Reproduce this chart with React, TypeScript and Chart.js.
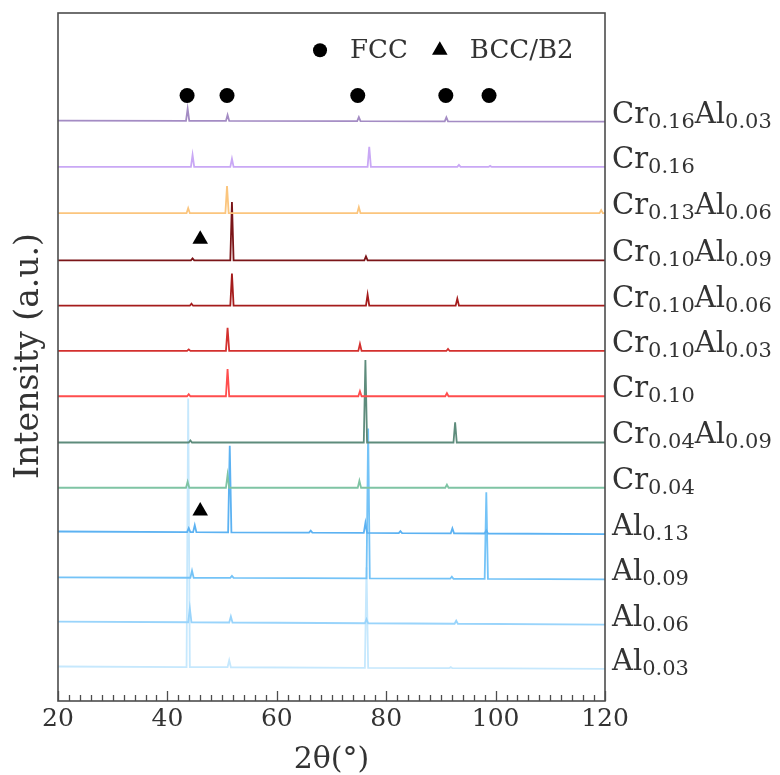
import React, { useEffect, useRef } from "react";
import { Chart, registerables } from "chart.js";

Chart.register(...registerables);

const FONT = "'DejaVu Serif', 'Liberation Serif', serif";
const TEXT_COLOR = "#333333";

// Series, listed from top trace to bottom trace
const seriesNames: [string, string][][] = [
  [["Cr", "0.16"], ["Al", "0.03"]],
  [["Cr", "0.16"]],
  [["Cr", "0.13"], ["Al", "0.06"]],
  [["Cr", "0.10"], ["Al", "0.09"]],
  [["Cr", "0.10"], ["Al", "0.06"]],
  [["Cr", "0.10"], ["Al", "0.03"]],
  [["Cr", "0.10"]],
  [["Cr", "0.04"], ["Al", "0.09"]],
  [["Cr", "0.04"]],
  [["Al", "0.13"]],
  [["Al", "0.09"]],
  [["Al", "0.06"]],
  [["Al", "0.03"]],
];

const seriesColors = [
  "#a48cc4",
  "#c9a8f5",
  "#fbc57d",
  "#7b1518",
  "#a51c1c",
  "#d3302e",
  "#ff4d4d",
  "#5e8c7c",
  "#7fc4a4",
  "#5cb2f2",
  "#74c3f7",
  "#99d4fb",
  "#c6e8fd",
];

// vertical offset (a.u.) of each trace's baseline
const baselineOffsets = [576, 531, 485, 438, 393, 348, 303, 257, 212, 166, 121, 76, 32];
// baseline rise at 2θ = 20° relative to 2θ = 120°
const baselineTilt = [1, 0, 0, 0, 0, 0, 0, 0, 0, 2.5, 2, 3, 2.3];

// [2θ position, peak height above baseline]
const peaksCr16Al03 = [[43.7, 12], [51.0, 6], [75.0, 4], [91.0, 4]];
const peaksCr16 = [[44.6, 12], [51.8, 8], [76.9, 20], [93.3, 2], [99.0, 1]];
const peaksCr13Al06 = [[43.8, 5], [50.9, 27], [75.0, 6], [119.3, 3]];
const peaksCr10Al09 = [[44.6, 2], [51.8, 58], [76.3, 4]];
const peaksCr10Al06 = [[44.4, 2], [51.8, 32], [76.6, 11], [93.0, 7]];
const peaksCr10Al03 = [[43.9, 1.5], [51.0, 23], [75.2, 7], [91.3, 2]];
const peaksCr10 = [[43.9, 2], [51.0, 27], [75.2, 5], [91.1, 3]];
const peaksCr04Al09 = [[44.2, 2], [76.2, 82], [92.6, 20]];
const peaksCr04 = [[43.7, 6], [51.0, 13], [75.1, 7], [91.1, 3]];
const peaksAl13 = [[43.9, 4], [45.0, 7], [51.4, 86], [66.2, 2], [76.2, 10], [82.6, 2], [92.1, 5], [98.3, 3]];
const peaksAl09 = [[44.5, 7], [51.8, 2], [76.7, 149], [92.0, 2], [98.3, 86]];
const peaksAl06 = [[44.1, 14], [51.6, 6], [76.4, 4], [92.8, 3]];
const peaksAl03 = [[43.8, 267], [51.3, 7], [76.4, 100], [91.8, 1]];

const seriesPeaks = [
  peaksCr16Al03, peaksCr16, peaksCr13Al06, peaksCr10Al09, peaksCr10Al06, peaksCr10Al03,
  peaksCr10, peaksCr04Al09, peaksCr04, peaksAl13, peaksAl09, peaksAl06, peaksAl03,
];

const PEAK_HALF_WIDTH = 0.3;

// phase markers
const fccMarkerX = [43.6, 50.9, 74.8, 90.9, 98.8];
const fccMarkerY = 602;
const bccMarkerX = [46.0, 46.0];
const bccMarkerY = [459, 189];
const legendItems = [
  { style: "circle", x: 67.9, label: "FCC" },
  { style: "triangle", x: 89.8, label: "BCC/B2" },
];
const legendY = 647;

const X_MIN = 20;
const X_MAX = 120;
const Y_MIN = 0;
const Y_MAX = 684;
const xMajorTicks = [20, 40, 60, 80, 100, 120];
const X_MINOR_STEP = 2;

function buildTrace(offset: number, tilt: number, peaks: number[][]) {
  const base = (x: number) => offset + (tilt * (X_MAX - x)) / (X_MAX - X_MIN);
  const pts: { x: number; y: number }[] = [{ x: X_MIN, y: base(X_MIN) }];
  const sorted = [...peaks].sort((a, b) => a[0] - b[0]);
  for (const [p, h] of sorted) {
    pts.push({ x: p - PEAK_HALF_WIDTH, y: base(p - PEAK_HALF_WIDTH) });
    pts.push({ x: p, y: base(p) + h });
    pts.push({ x: p + PEAK_HALF_WIDTH, y: base(p + PEAK_HALF_WIDTH) });
  }
  pts.push({ x: X_MAX, y: base(X_MAX) });
  return pts;
}

const decorPlugin = {
  id: "decor",
  afterDatasetsDraw(chart: any) {
    const { ctx, chartArea, scales } = chart;
    const xs = scales.x;
    const ys = scales.y;
    ctx.save();
    // frame
    ctx.strokeStyle = "#4d4d4d";
    ctx.lineWidth = 1.6;
    ctx.strokeRect(chartArea.left, chartArea.top, chartArea.right - chartArea.left, chartArea.bottom - chartArea.top);
    // inward ticks at bottom
    ctx.lineWidth = 1.3;
    for (let v = X_MIN; v <= X_MAX; v += X_MINOR_STEP) {
      const px = Math.round(xs.getPixelForValue(v)) + 0.5;
      const major = xMajorTicks.includes(v);
      const len = major ? 10 : 6;
      ctx.beginPath();
      ctx.moveTo(px, chartArea.bottom);
      ctx.lineTo(px, chartArea.bottom - len);
      ctx.stroke();
    }
    // right-hand labels with subscripts
    ctx.fillStyle = TEXT_COLOR;
    ctx.textAlign = "left";
    ctx.textBaseline = "alphabetic";
    seriesNames.forEach((parts, i) => {
      const py = ys.getPixelForValue(baselineOffsets[i]);
      let x = chartArea.right + 7;
      for (const [main, sub] of parts) {
        ctx.font = `29px ${FONT}`;
        ctx.fillText(main, x, py + 1);
        x += ctx.measureText(main).width;
        ctx.font = `21px ${FONT}`;
        ctx.fillText(sub, x, py + 6);
        x += ctx.measureText(sub).width;
      }
    });
    // legend texts
    ctx.font = `26px ${FONT}`;
    ctx.textBaseline = "middle";
    legendItems.forEach((it) => {
      const px = xs.getPixelForValue(it.x);
      const py = ys.getPixelForValue(legendY);
      ctx.fillText(it.label, px + 30, py + 1);
    });
    // y title
    ctx.font = `33px ${FONT}`;
    ctx.textAlign = "center";
    ctx.translate(29, 356);
    ctx.rotate(-Math.PI / 2);
    ctx.fillText("Intensity (a.u.)", 0, 0);
    ctx.restore();
  },
};

export default function App() {
  const ref = useRef<HTMLCanvasElement | null>(null);
  useEffect(() => {
    if (!ref.current) return;
    const lineSets: any[] = seriesNames.map((parts, i) => ({
      label: parts.map((p) => p[0] + p[1]).join(""),
      data: buildTrace(baselineOffsets[i], baselineTilt[i], seriesPeaks[i]),
      borderColor: seriesColors[i],
      borderWidth: 1.8,
      pointRadius: 0,
      tension: 0,
      fill: false,
    }));
    const markerSets: any[] = [
      {
        label: "FCC",
        data: fccMarkerX.map((x) => ({ x, y: fccMarkerY })),
        showLine: false,
        pointStyle: "circle",
        pointRadius: 7.5,
        backgroundColor: "#000",
        borderColor: "#000",
        borderWidth: 0,
      },
      {
        label: "BCC/B2",
        data: bccMarkerX.map((x, i) => ({ x, y: bccMarkerY[i] })),
        showLine: false,
        pointStyle: "triangle",
        pointRadius: 9,
        backgroundColor: "#000",
        borderColor: "#000",
        borderWidth: 0,
      },
      ...legendItems.map((it) => ({
        label: "legend-" + it.label,
        data: [{ x: it.x, y: legendY }],
        showLine: false,
        pointStyle: it.style,
        pointRadius: it.style === "circle" ? 7 : 9,
        backgroundColor: "#000",
        borderColor: "#000",
        borderWidth: 0,
      })),
    ];
    const chart = new Chart(ref.current, {
      type: "line",
      data: { datasets: [...markerSets, ...lineSets] },
      options: {
        animation: false,
        responsive: false,
        devicePixelRatio: 1,
        parsing: false,
        layout: { padding: { left: 58, right: 175, top: 13, bottom: 0 } },
        plugins: { legend: { display: false }, tooltip: { enabled: false } },
        scales: {
          x: {
            type: "linear",
            min: X_MIN,
            max: X_MAX,
            grid: { display: false, drawTicks: false },
            border: { display: false },
            ticks: {
              stepSize: 20,
              autoSkip: false,
              maxRotation: 0,
              padding: 3,
              color: TEXT_COLOR,
              font: { family: FONT, size: 25 },
            },
            title: {
              display: true,
              text: "2θ(°)",
              color: TEXT_COLOR,
              font: { family: FONT, size: 30 },
              padding: { top: 5, bottom: -3 },
            },
          },
          y: { type: "linear", display: false, min: Y_MIN, max: Y_MAX },
        },
      } as any,
      plugins: [decorPlugin],
    });
    return () => chart.destroy();
  }, []);
  return (
    <div style={{ position: "absolute", left: 0, top: 0, width: 780, height: 775, background: "#fff" }}>
      <canvas ref={ref} width={780} height={775} style={{ display: "block", width: 780, height: 775 }} />
    </div>
  );
}
